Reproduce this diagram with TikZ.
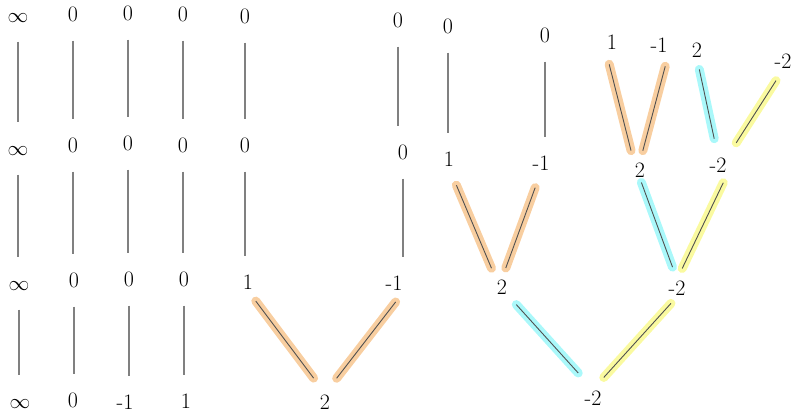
\documentclass[tikz,border=0pt]{standalone}
\usepackage{tikz}
\usetikzlibrary{positioning}
\definecolor{sketchgray}{RGB}{128,128,128}
\definecolor{inkgray}{RGB}{80,80,80}
\definecolor{hlpeach}{RGB}{248,206,160}
\definecolor{hlcyan}{RGB}{170,248,250}
\definecolor{hlyellow}{RGB}{250,250,160}
\tikzset{
  num/.style={font=\fontsize{22}{22}\selectfont, inner sep=1pt, text height=15pt, text depth=0pt},
  bond/.style={draw=sketchgray, line width=1.2pt, shorten <=18pt, shorten >=17pt},
  glow/.style={draw=inkgray, line width=0.9pt, preaction={draw=#1, line width=9pt, line cap=round}},
}

\begin{document}
\begin{tikzpicture}[x=1pt,y=-1pt]
  \useasboundingbox (0,0) rectangle (794,413);
  % left block
  \node[num] (a1) at (18,15) {$\infty$};
  \node[num] (b1) at (18,148) {$\infty$};
  \node[num] (c1) at (19,283) {$\infty$};
  \node[num] (d1) at (20,401) {$\infty$};
  \node[num] (a2) at (73,14) {0};
  \node[num] (b2) at (73,145) {0};
  \node[num] (c2) at (74,280) {0};
  \node[num] (d2) at (73,400) {0};
  \node[num] (a3) at (128,13) {0};
  \node[num] (b3) at (128,143) {0};
  \node[num] (c3) at (129,279) {0};
  \node[num] (d3) at (125,402) {-1};
  \node[num] (a4) at (183,14) {0};
  \node[num] (b4) at (183,145) {0};
  \node[num] (c4) at (184,279) {0};
  \node[num] (d4) at (186,401) {1};
  \node[num] (a5) at (245,16) {0};
  \node[num] (b5) at (245,145) {0};
  \node[num] (c5) at (248,282) {1};
  \node[num] (d5) at (325,402) {2};
  % middle block
  \node[num] (a6) at (398,20) {0};
  \node[num] (b6) at (403,152) {0};
  \node[num] (c6) at (394,283) {-1};
  \node[num] (a7) at (448,26) {0};
  \node[num] (b7) at (449,159) {1};
  \node[num] (a8) at (545,35) {0};
  \node[num] (b8) at (541,163) {-1};
  \node[num] (c7) at (502,287) {2};
  % right block
  \node[num] (a9) at (612,42) {1};
  \node[num] (a10) at (659,45) {-1};
  \node[num] (a11) at (697,50) {2};
  \node[num] (a12) at (783,61) {-2};
  \node[num] (b9) at (640,170) {2};
  \node[num] (b10) at (718,165) {-2};
  \node[num] (c8) at (677,288) {-2};
  \node[num] (d6) at (593,398) {-2};
  % plain links
  \foreach \t/\b in {a1/b1,b1/c1,c1/d1,a2/b2,b2/c2,c2/d2,a3/b3,b3/c3,c3/d3,
                     a4/b4,b4/c4,c4/d4,a5/b5,b5/c5,a6/b6,b6/c6,a7/b7,a8/b8}
    \draw[bond] (\t.south) -- (\t.south |- \b.north);
  % highlighted links
  \draw[glow=hlpeach, shorten <=13pt, shorten >=19pt] (c5.south) -- (d5.north);
  \draw[glow=hlpeach, shorten <=13pt, shorten >=19pt] (c6.south east) -- (d5.north);
  \draw[glow=hlpeach, shorten <=19pt, shorten >=11pt] (b7.south) -- (c7.north west);
  \draw[glow=hlpeach, shorten <=17pt, shorten >=11pt] (b8.south) -- (c7.north);
  \draw[glow=hlpeach, shorten <=14pt, shorten >=11pt] (a9.south west) -- (b9.north west);
  \draw[glow=hlpeach, shorten <=13pt, shorten >=11pt] (a10.south east) -- (b9.north);
  \draw[glow=hlcyan, shorten <=11pt, shorten >=18pt] (a11.south) -- (b10.north);
  \draw[glow=hlyellow, shorten <=13pt, shorten >=16pt] (a12.south) -- (b10.north east);
  \draw[glow=hlcyan, shorten <=4pt, shorten >=13pt] (b9.south) -- (c8.north);
  \draw[glow=hlyellow, shorten <=10pt, shorten >=12pt] (b10.south east) -- (c8.north);
  \draw[glow=hlcyan, shorten <=12pt, shorten >=22pt] (c7.south east) -- (d6.north);
  \draw[glow=hlyellow, shorten <=9pt, shorten >=16pt] (c8.south) -- (d6.north);
\end{tikzpicture}
\end{document}
